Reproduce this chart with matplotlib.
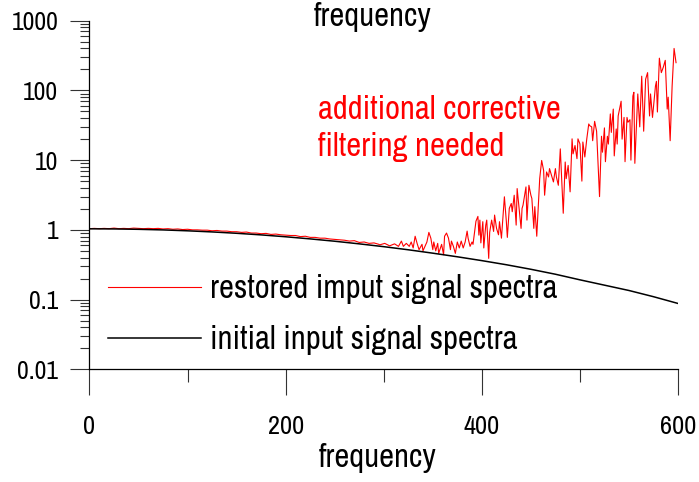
import matplotlib
matplotlib.use("Agg")
import matplotlib.pyplot as plt
from matplotlib.ticker import LogLocator, FixedLocator, NullFormatter, FixedFormatter
import numpy as np

plt.rcParams['font.family'] = ['Archivo Narrow', 'Liberation Sans', 'DejaVu Sans']

# initial input signal spectrum (black)
init_x = [0, 25, 50, 75, 100, 125, 150, 175, 200, 225, 250, 275, 300, 325, 350,
          375, 400, 425, 450, 475, 500, 525, 550, 575, 600]
init_y = [1.035, 1.031, 1.018, 0.998, 0.969, 0.934, 0.893, 0.847, 0.796, 0.742,
          0.687, 0.630, 0.574, 0.518, 0.463, 0.411, 0.362, 0.316, 0.272, 0.231,
          0.192, 0.161, 0.135, 0.110, 0.088]

# restored input signal spectrum (red)
rest_x = [0, 5, 10, 15, 20, 25, 30, 35, 40, 45, 50, 55, 60, 65, 70, 75, 80, 85, 90, 95,
          100, 105, 110, 115, 120, 125, 130, 135, 140, 145, 150, 155, 160, 165, 170,
          175, 180, 185, 190, 195, 200, 205, 210, 215, 220, 225, 230, 235, 240, 245,
          250, 255, 260, 265, 270, 275, 280, 285, 290, 295,
          296, 301, 306, 311, 315, 318, 320, 323, 326, 328, 330, 332, 334, 336, 339,
          340, 344, 346, 348, 350, 351, 353, 355, 356, 359, 361, 362, 364, 366, 368,
          369, 371, 373, 375, 377, 379, 381, 383, 385, 386, 388, 390, 391, 394, 396,
          397, 398, 399, 401, 402, 404, 405, 407,
          408, 410, 412, 413, 415, 417, 418, 420, 423, 425, 426, 428, 430, 431, 433,
          435, 436, 438, 440, 441, 442, 445, 446, 448, 450, 451, 453, 454, 456, 458,
          459, 461, 463, 464, 466, 468, 469, 471, 473, 475, 476, 478, 480, 481, 483,
          485, 486, 488, 490, 492, 493, 495, 497, 498, 500, 502, 503, 505, 507, 509,
          510, 512, 513, 515, 517, 520, 522, 523, 525, 526, 528, 529, 531, 532, 534,
          535, 537, 538, 539, 542, 543, 545, 546, 548, 549, 551, 552, 554, 555, 556,
          559, 561, 563, 565, 567, 569, 571, 572, 574, 577, 578, 579, 581, 583, 585,
          587, 589, 590, 592, 594, 596, 598]
rest_y = [1.04, 1.05, 1.04, 1.05, 1.04, 1.06, 1.04, 1.05, 1.04, 1.06, 1.05, 1.04, 1.05,
          1.04, 1.05, 1.03, 1.04, 1.02, 1.03, 1.01, 1.02, 1.00, 1.00, 0.99, 0.99, 0.97,
          0.98, 0.96, 0.96, 0.94, 0.94, 0.92, 0.93, 0.90, 0.90, 0.88, 0.89, 0.86, 0.87,
          0.85, 0.84, 0.83, 0.83, 0.80, 0.81, 0.78, 0.78, 0.76, 0.76, 0.74, 0.73, 0.72,
          0.71, 0.69, 0.70, 0.66, 0.67, 0.64, 0.65, 0.62,
          0.61, 0.64, 0.59, 0.63, 0.58, 0.69, 0.58, 0.64, 0.58, 0.67, 0.55, 0.81, 0.64,
          0.52, 0.62, 0.50, 0.67, 0.92, 0.76, 0.52, 0.67, 0.50, 0.64, 0.46, 0.62, 0.44,
          0.81, 0.90, 0.76, 0.52, 0.69, 0.58, 0.46, 0.67, 0.55, 0.69, 0.55, 0.67, 0.96,
          0.76, 0.58, 0.67, 0.62, 1.33, 1.56, 0.84, 1.38, 0.65, 1.31, 0.55, 1.17, 1.38,
          0.39,
          0.92, 1.38, 0.95, 1.63, 1.05, 0.85, 1.31, 0.76, 2.98, 1.31, 0.78, 2.03, 2.39,
          1.82, 3.14, 1.17, 3.91, 2.03, 1.05, 2.03, 2.26, 4.13, 1.38, 4.36, 3.14, 2.82,
          1.05, 2.15, 0.81, 2.82, 5.43, 9.9, 7.1, 3.14, 6.77, 5.74, 7.56, 6.06, 4.87,
          7.56, 5.74, 4.36, 14.5, 7.1, 1.73, 9.4, 5.43, 8.4, 3.51, 20.2, 12.3, 16.2,
          10.5, 20.2, 17.1, 5.0, 18.2, 11.1, 20.2, 33.0, 31.2,
          30.0, 19.0, 36.0, 26.0, 3.0, 22.0, 13.0, 29.0, 9.5, 22.0, 17.0, 46.0, 25.0,
          54.0, 11.5, 28.0, 17.0, 43.0, 70.0, 20.0, 41.0, 9.5, 41.0, 35.0, 38.0, 10.0,
          83.0, 94.0, 9.0, 89.0, 30.0, 160.0, 26.0, 145.0, 180.0, 43.0, 89.0, 41.0,
          115.0, 135.0, 49.0, 290.0, 180.0, 215.0, 270.0, 54.0, 80.0, 19.0, 115.0,
          400.0, 250.0]

x_major = [0, 200, 400, 600]
x_minor = [100, 300, 500]
y_major = [0.01, 0.1, 1, 10, 100, 1000]
y_labels = ["0.01", "0.1", "1", "10", "100", "1000"]

W, H = 699, 482
fig = plt.figure(figsize=(W / 100, H / 100), dpi=100)
ax = fig.add_axes([89.5 / W, 1 - 369.3 / H, 588.5 / W, 348.6 / H])

l_red, = ax.plot(rest_x, rest_y, color='#ff0000', lw=0.8)
l_blk, = ax.plot(init_x, init_y, color='black', lw=1.1)

ax.set_yscale('log')
ax.set_xlim(0, 600)
ax.set_ylim(0.01, 1000)

for s in ['top', 'right']:
    ax.spines[s].set_visible(False)
for s in ['left', 'bottom']:
    ax.spines[s].set_linewidth(0.9)

ax.xaxis.set_major_locator(FixedLocator(x_major))
ax.xaxis.set_minor_locator(FixedLocator(x_minor))
ax.yaxis.set_major_locator(FixedLocator(y_major))
ax.yaxis.set_major_formatter(FixedFormatter(y_labels))
ax.yaxis.set_minor_locator(LogLocator(base=10, subs=np.arange(2, 10), numticks=20))
ax.yaxis.set_minor_formatter(NullFormatter())

ax.tick_params(axis='x', which='major', direction='out', length=18.7, width=0.8,
               pad=14.5, labelsize=19, color='#333333')
ax.tick_params(axis='x', which='minor', direction='out', length=9.3, width=0.8,
               color='#333333')
ax.tick_params(axis='y', which='major', direction='out', length=14, width=0.8,
               pad=8.5, labelsize=18.5, color='#333333')
ax.tick_params(axis='y', which='minor', direction='out', length=6.5, width=0.8,
               color='#333333')

ax.set_xlabel('frequency', fontsize=23.5, va='baseline')
ax.xaxis.set_label_coords((377.5 - 89.5) / 588.5, (369.3 - 466.7) / 348.6)
fig.text(373 / W, 1 - 26 / H, 'frequency', fontsize=23.5, ha='center', va='baseline')

ax.text((318 - 89.5) / 588.5, (369.3 - 156) / 348.6, 'additional corrective\nfiltering needed',
        transform=ax.transAxes, color='#ff0000', fontsize=23.5, ha='left', va='baseline',
        linespacing=1.3)

leg = ax.legend([l_red, l_blk], ['restored imput signal spectra', 'initial input signal spectra'],
                loc='lower left', bbox_to_anchor=(0.01, 0.003), frameon=False,
                fontsize=23.5, handlelength=2.85, handletextpad=0.25, labelspacing=0.65,
                borderaxespad=0.0)

fig.savefig('out.png', dpi=100)
